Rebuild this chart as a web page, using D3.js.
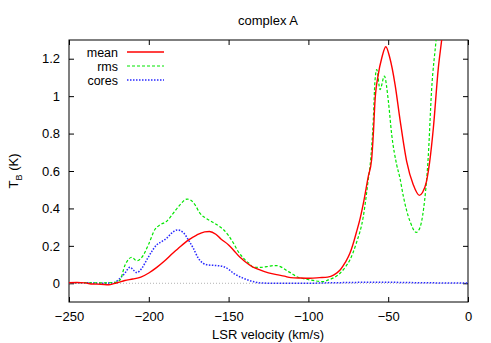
<!DOCTYPE html>
<html>
<head>
<meta charset="utf-8">
<script src="https://cdn.jsdelivr.net/npm/d3@7.9.0/dist/d3.min.js"></script>
<style>
  body { margin: 0; background: #fff; }
  text { font-family: "Liberation Sans", Arial, sans-serif; font-size: 13px; fill: #000; }
</style>
</head>
<body>
<svg width="491" height="343"></svg>
<script>
// spectra: [velocity km/s, T_B K]
const meanData = [[-250,0.003],[-245,0.004],[-240,0.002],[-235,-0.004],[-230,-0.005],[-225,-0.008],[-222,-0.002],[-219,0.005],[-215,0.015],[-210,0.023],[-205,0.033],[-200,0.055],[-195,0.085],[-190,0.12],[-185,0.16],[-180,0.198],[-175,0.232],[-170,0.258],[-165,0.275],[-162,0.277],[-158,0.262],[-155,0.238],[-150,0.205],[-147,0.178],[-143,0.14],[-140,0.118],[-135,0.088],[-130,0.07],[-125,0.056],[-120,0.046],[-115,0.038],[-111,0.03],[-105,0.028],[-99,0.027],[-93,0.03],[-88,0.033],[-84,0.045],[-80,0.072],[-77,0.11],[-74,0.16],[-72,0.21],[-70,0.27],[-67.5,0.35],[-65.5,0.43],[-62.5,0.57],[-60.4,0.66],[-59.3,0.8],[-58.3,0.97],[-56.2,1.116],[-54,1.205],[-51.5,1.264],[-49,1.205],[-45.7,1.062],[-42.6,0.875],[-38.4,0.65],[-34.3,0.527],[-30.5,0.47],[-28.5,0.485],[-26,0.545],[-24,0.65],[-21.7,0.83],[-18.6,1.15],[-16.5,1.3],[-14,1.5],[-10,1.8]];
const rmsData = [[-250,0.003],[-240,0.003],[-230,0.002],[-222,0.004],[-218,0.018],[-215,0.095],[-212.5,0.13],[-210.7,0.139],[-207.5,0.12],[-204.4,0.138],[-200.3,0.205],[-196,0.29],[-193,0.312],[-189,0.33],[-184.6,0.375],[-180.5,0.419],[-176,0.45],[-173,0.44],[-171,0.419],[-168,0.375],[-163.7,0.345],[-159.6,0.325],[-156,0.305],[-153,0.285],[-150,0.255],[-147,0.215],[-144,0.17],[-140.7,0.134],[-137,0.105],[-134.5,0.086],[-130,0.085],[-126,0.089],[-122,0.094],[-119.9,0.094],[-116,0.082],[-113.6,0.068],[-110,0.05],[-107.3,0.035],[-103,0.025],[-99,0.018],[-94,0.011],[-90.7,0.009],[-87.5,0.018],[-84,0.03],[-80,0.055],[-77,0.085],[-74,0.125],[-70,0.214],[-65.6,0.357],[-62.5,0.553],[-61,0.66],[-59.3,0.88],[-58.3,1.08],[-57.2,1.142],[-55.1,1.035],[-52.4,1.107],[-49.9,0.973],[-47.8,0.794],[-44.7,0.634],[-42.6,0.56],[-40.5,0.464],[-36.3,0.33],[-32.4,0.272],[-30,0.3],[-27.9,0.393],[-24.9,0.678],[-22.8,1.035],[-20,1.3],[-18,1.5],[-15,1.8]];
const coresData = [[-250,0.002],[-240,0.003],[-230,0.0],[-222,0.003],[-218,0.027],[-215,0.054],[-211.8,0.086],[-209.7,0.071],[-207.6,0.057],[-204.4,0.08],[-201.3,0.125],[-198.2,0.169],[-195.1,0.205],[-191.9,0.223],[-188.8,0.241],[-185.7,0.268],[-182.1,0.285],[-178.4,0.271],[-175.2,0.232],[-172.1,0.187],[-169,0.134],[-165.9,0.107],[-162.7,0.098],[-158,0.095],[-153.3,0.089],[-150,0.075],[-147,0.054],[-143,0.035],[-140.8,0.027],[-137,0.015],[-134.5,0.009],[-130,0.002],[-120,0.0],[-100,0.0],[-90,0.002],[-75,0.004],[-60,0.006],[-45,0.005],[-30,0.003],[-15,0.002],[0,0.002]];

const xTicks = [-250, -200, -150, -100, -50, 0];
const yTicks = [0, 0.2, 0.4, 0.6, 0.8, 1, 1.2];
const seriesNames = ["mean", "rms", "cores"];

const svg = d3.select("svg");
const margin = { top: 40, right: 23, bottom: 41, left: 69 };
const width = 491, height = 343;

const x = d3.scaleLinear().domain([-250, 0]).range([margin.left, width - margin.right]);
const y = d3.scaleLinear().domain([-0.1, 1.3]).range([height - margin.bottom, margin.top]);

svg.append("clipPath").attr("id", "clip")
  .append("rect")
  .attr("x", margin.left).attr("y", margin.top)
  .attr("width", x(0) - margin.left).attr("height", y(-0.1) - y(1.3));

// zero line
svg.append("line")
  .attr("x1", x(-250)).attr("x2", x(0))
  .attr("y1", y(0)).attr("y2", y(0))
  .attr("stroke", "#a0a0a0").attr("stroke-width", 0.8)
  .attr("stroke-dasharray", "1,2");

// axes, ticks pointing inward, mirrored
const tick = 5;
svg.append("g")
  .attr("transform", `translate(0,${y(-0.1)})`)
  .call(d3.axisBottom(x).tickValues(xTicks).tickSizeInner(-tick).tickSizeOuter(0).tickPadding(10))
  .call(g => g.select(".domain").remove());
svg.append("g")
  .attr("transform", `translate(0,${y(1.3)})`)
  .call(d3.axisTop(x).tickValues(xTicks).tickSizeInner(-tick).tickSizeOuter(0).tickFormat(""))
  .call(g => g.select(".domain").remove());
svg.append("g")
  .attr("transform", `translate(${x(-250)},0)`)
  .call(d3.axisLeft(y).tickValues(yTicks).tickSizeInner(-tick).tickSizeOuter(0).tickPadding(9).tickFormat(d3.format("~g")))
  .call(g => g.select(".domain").remove());
svg.append("g")
  .attr("transform", `translate(${x(0)},0)`)
  .call(d3.axisRight(y).tickValues(yTicks).tickSizeInner(-tick).tickSizeOuter(0).tickFormat(""))
  .call(g => g.select(".domain").remove());

svg.selectAll(".tick text").style("font-size", "13px").style("font-family", "Liberation Sans, Arial, sans-serif");
svg.selectAll(".tick line").attr("stroke", "#000");

svg.append("rect")
  .attr("x", x(-250)).attr("y", y(1.3))
  .attr("width", x(0) - x(-250)).attr("height", y(-0.1) - y(1.3))
  .attr("fill", "none").attr("stroke", "#000").attr("stroke-width", 1);

const line = d3.line()
  .x(d => x(d[0]))
  .y(d => y(d[1]))
  .curve(d3.curveMonotoneX);

const styles = [
  { data: meanData, color: "#ff0000", width: 1.4, dash: null },
  { data: rmsData, color: "#00e600", width: 1.2, dash: "3,2" },
  { data: coresData, color: "#2828ff", width: 1.5, dash: "1.5,1.5" }
];

const plot = svg.append("g").attr("clip-path", "url(#clip)");
// draw cores first, mean on top
[2, 1, 0].forEach(i => {
  const s = styles[i];
  plot.append("path")
    .datum(s.data)
    .attr("fill", "none")
    .attr("stroke", s.color)
    .attr("stroke-width", s.width)
    .attr("stroke-dasharray", s.dash)
    .attr("d", line);
});

// legend
const legendY = [52, 66, 80];
seriesNames.forEach((name, i) => {
  const ly = legendY[i];
  svg.append("text")
    .attr("x", 118).attr("y", ly + 4.5)
    .attr("text-anchor", "end")
    .style("font-size", "12.5px")
    .text(name);
  svg.append("line")
    .attr("x1", 127).attr("x2", 164)
    .attr("y1", ly).attr("y2", ly)
    .attr("stroke", styles[i].color)
    .attr("stroke-width", styles[i].width)
    .attr("stroke-dasharray", styles[i].dash);
});

// title and labels
svg.append("text")
  .attr("x", 268).attr("y", 25)
  .attr("text-anchor", "middle")
  .text("complex A");

svg.append("text")
  .attr("x", 268).attr("y", 339)
  .attr("text-anchor", "middle")
  .text("LSR velocity (km/s)");

const yl = svg.append("text")
  .attr("transform", "translate(18,171) rotate(-90)")
  .attr("text-anchor", "middle");
yl.append("tspan").text("T");
yl.append("tspan").attr("dy", 4).style("font-size", "9px").text("B");
yl.append("tspan").attr("dy", -4).text(" (K)");
</script>
</body>
</html>
